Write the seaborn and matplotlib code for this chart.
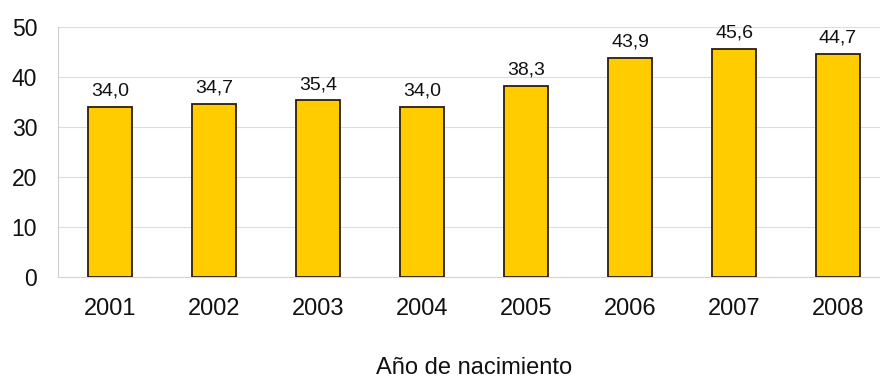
import matplotlib
matplotlib.use("Agg")
import matplotlib.pyplot as plt
import seaborn as sns
import pandas as pd

years = ["2001", "2002", "2003", "2004", "2005", "2006", "2007", "2008"]
values = [34.0, 34.7, 35.4, 34.0, 38.3, 43.9, 45.6, 44.7]
y_ticks = [0, 10, 20, 30, 40, 50]

sns.set_theme(style="white")
plt.rcParams["font.family"] = ["Liberation Sans", "DejaVu Sans"]

df = pd.DataFrame({"year": years, "value": values})

fig = plt.figure(figsize=(8.8, 3.78), dpi=100)
ax = fig.add_axes([58 / 880, 1 - 277 / 378, 832 / 880, 250 / 378])

sns.barplot(data=df, x="year", y="value", color="#FFCC00", width=0.42,
            edgecolor="#2b1d12", linewidth=1.3, saturation=1, ax=ax, zorder=3)

ax.set_xlim(-0.5, len(years) - 0.5)
ax.set_ylim(0, 50)
ax.set_yticks(y_ticks)
ax.set_yticklabels([str(t) for t in y_ticks], fontsize=16.5, color="#111111")
ax.yaxis.grid(True, color="#dcdcdc", linewidth=0.8, zorder=0)
ax.set_axisbelow(True)

# category boundary ticks on the x axis
ax.set_xticks(range(len(years)))
ax.set_xticklabels(years, fontsize=17, color="#111111")
ax.tick_params(axis="x", length=0, pad=15)
ax.set_xticks([i + 0.5 for i in range(-1, len(years))], minor=True)
ax.tick_params(axis="x", which="minor", length=5, width=0.8, color="#cccccc", direction="out")
ax.tick_params(axis="y", length=7, width=0.8, color="#dcdcdc", pad=8)

for s in ["top", "right"]:
    ax.spines[s].set_visible(False)
ax.spines["left"].set_color("#cfcfcf")
ax.spines["left"].set_linewidth(0.8)
ax.spines["bottom"].set_color("#f0c8c8")
ax.spines["bottom"].set_linewidth(0.8)

for i, v in enumerate(values):
    ax.text(i, v + 1.4, f"{v:.1f}".replace(".", ","), ha="center", va="bottom",
            fontsize=14, color="#111111")

ax.set_xlabel("Año de nacimiento", fontsize=17, color="#111111", labelpad=27)
ax.set_ylabel("")

fig.savefig("out.png", dpi=100)
